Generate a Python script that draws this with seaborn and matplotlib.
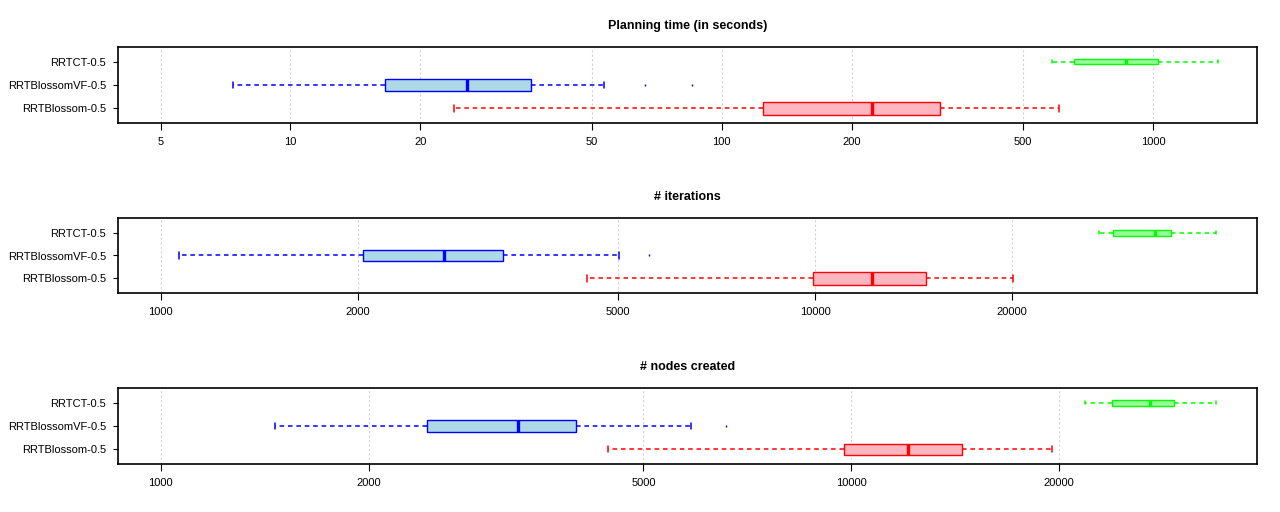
import matplotlib
matplotlib.use("Agg")
import matplotlib.pyplot as plt
from matplotlib.ticker import NullLocator
import seaborn as sns

# planners, bottom to top
planners = ["RRTBlossom-0.5", "RRTBlossomVF-0.5", "RRTCT-0.5"]

# box summaries: whisker low, q1, median, q3, whisker high
time_blossom = [23.9, 124.7, 222.6, 320.6, 605]
time_vf = [7.36, 16.6, 25.7, 36.1, 53.3]
time_ct = [582, 657, 865, 1030, 1414]
time_vf_out = [66.3, 85.2]

iter_blossom = [4475, 9940, 12215, 14765, 20030]
iter_vf = [1067, 2038, 2706, 3333, 5022]
iter_ct = [27180, 28540, 33090, 34990, 41050]
iter_vf_out = [5578]

nodes_blossom = [4439, 9772, 12070, 14450, 19550]
nodes_vf = [1463, 2431, 3295, 3998, 5862]
nodes_ct = [21780, 23830, 27040, 29350, 33770]
nodes_vf_out = [6591]

time_ticks = [5, 10, 20, 50, 100, 200, 500, 1000]
count_ticks = [1000, 2000, 5000, 10000, 20000]

sns.set_theme(style="white")
plt.rcParams["font.family"] = ["Liberation Sans", "DejaVu Sans"]
plt.rcParams["text.color"] = "black"
plt.rcParams["axes.labelcolor"] = "black"
plt.rcParams["axes.titlecolor"] = "black"

edge_cols = ["#FF0000", "#0000FF", "#00FF00"]
fill_cols = ["#FFB6C1", "#ADD8E6", "#98FB98"]


def summary(vals, fliers=()):
    return dict(whislo=vals[0], q1=vals[1], med=vals[2], q3=vals[3],
                whishi=vals[4], fliers=list(fliers))


def panel(ax, title, boxes, widths, ticks, xlim):
    ax.set_xscale("log")
    for i, st in enumerate(boxes):
        ec = edge_cols[i]
        ax.bxp([st], positions=[i + 1], widths=[widths[i]],
               capwidths=[widths[i] * 0.55], orientation="horizontal",
               patch_artist=True, showfliers=True,
               boxprops=dict(facecolor=fill_cols[i], edgecolor=ec, linewidth=1.0),
               medianprops=dict(color=ec, linewidth=2.4, solid_capstyle="butt"),
               whiskerprops=dict(color=ec, linewidth=1.1, linestyle=(0, (3, 2.5))),
               capprops=dict(color=ec, linewidth=1.1),
               flierprops=dict(marker="|", markersize=2, markeredgewidth=1.0,
                               markeredgecolor=ec, linestyle="none"))
    ax.set_xlim(xlim)
    ax.set_ylim(0.38, 3.62)
    ax.set_xticks(ticks)
    ax.set_xticklabels([str(t) for t in ticks])
    ax.xaxis.set_minor_locator(NullLocator())
    ax.set_yticks([1, 2, 3])
    ax.set_yticklabels(planners)
    ax.grid(axis="x", color="#D3D3D3", linestyle=(0, (2, 2)), linewidth=0.8)
    ax.grid(axis="y", visible=False)
    ax.set_axisbelow(True)
    for sp in ax.spines.values():
        sp.set_color("black")
        sp.set_linewidth(1.2)
    ax.tick_params(axis="x", direction="out", length=5, width=0.8, pad=5,
                   labelsize=8, colors="black", bottom=True)
    ax.tick_params(axis="y", direction="out", length=3.6, width=0.8, pad=5,
                   labelsize=8, colors="black", left=True)
    ax.set_title(title, fontsize=9, fontweight="bold", pad=13, color="black")


fig = plt.figure(figsize=(12.8, 5.12), dpi=100)
left, width = 118.3 / 1280, (1256.7 - 118.3) / 1280

ax1 = fig.add_axes([left, 1 - 123 / 512, width, 76 / 512])
panel(ax1, "Planning time (in seconds)",
      [summary(time_blossom), summary(time_vf, time_vf_out), summary(time_ct)],
      [0.54, 0.53, 0.21], time_ticks, (3.99, 1740))

ax2 = fig.add_axes([left, 1 - 292.7 / 512, width, 74.4 / 512])
panel(ax2, "# iterations",
      [summary(iter_blossom), summary(iter_vf, iter_vf_out), summary(iter_ct)],
      [0.55, 0.49, 0.26], count_ticks, (861, 47300))

ax3 = fig.add_axes([left, 1 - 463.7 / 512, width, 75.4 / 512])
panel(ax3, "# nodes created",
      [summary(nodes_blossom), summary(nodes_vf, nodes_vf_out), summary(nodes_ct)],
      [0.49, 0.52, 0.27], count_ticks, (868, 38640))

fig.savefig("out.png", dpi=100, facecolor="white")
